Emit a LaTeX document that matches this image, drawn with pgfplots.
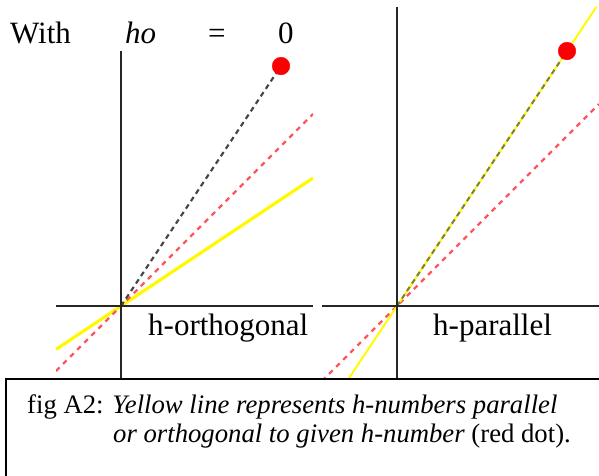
\documentclass[border=0pt]{standalone}
\usepackage{pgfplots}
\pgfplotsset{compat=1.18}
\usepackage{fontspec}
\setmainfont{Liberation Serif}

\definecolor{hyel}{RGB}{255,250,0}
\definecolor{hred}{RGB}{255,85,95}
\definecolor{hdot}{RGB}{250,0,0}
\definecolor{hgray}{RGB}{70,70,70}
\definecolor{holive}{RGB}{125,125,70}

\pgfplotsset{panel/.style={
    axis lines*=middle, axis on top,
    xtick=\empty, ytick=\empty,
    anchor=origin,
    axis line style={black!85, line width=1.3pt},
    clip=true}}

\begin{document}
\begin{tikzpicture}[x=1pt,y=1pt]
\useasboundingbox (0,0) rectangle (599,-475);
\clip (0,0) rectangle (599,-475);

% left panel: h-orthogonal
\begin{axis}[panel, at={(121pt,-306pt)}, x=80pt, y=80pt,
    xmin=-0.8125, xmax=2.4, ymin=-0.92, ymax=3.19]
  \addplot[hyel, line width=3.2pt] coordinates {(-0.8125,-0.5417) (2.4,1.6)};
  \addplot[hred, line width=2.2pt, dash pattern=on 5pt off 5pt] coordinates {(-0.8125,-0.8125) (2.4,2.4)};
  \addplot[hgray, line width=2.2pt, dash pattern=on 5pt off 4pt] coordinates {(0,0) (2,3)};
  \addplot[only marks, mark=*, mark size=8.8pt, hdot] coordinates {(2,3)};
\end{axis}

% right panel: h-parallel
\begin{axis}[panel, at={(397pt,-306pt)}, x=85pt, y=85pt,
    xmin=-0.882, xmax=2.376, ymin=-0.86, ymax=3.52]
  \addplot[hred, line width=2.2pt, dash pattern=on 5pt off 5pt] coordinates {(-0.882,-0.882) (2.376,2.376)};
  \addplot[hyel, line width=2pt] coordinates {(-0.573,-0.86) (2.347,3.52)};
  \addplot[holive, line width=2pt, dash pattern=on 5pt off 4pt] coordinates {(0,0) (2,3)};
  \addplot[only marks, mark=*, mark size=8.8pt, hdot] coordinates {(2,3)};
\end{axis}

\tikzset{lab/.style={anchor=base west, inner sep=0pt, font=\fontsize{31}{36}\selectfont}}
\node[lab] at (10,-43) {With};
\node[lab] at (125,-43) {\itshape ho};
\node[lab] at (208,-43) {=};
\node[lab] at (278,-43) {0};
\node[lab] at (148,-335) {h-orthogonal};
\node[lab] at (433,-335) {h-parallel};

% caption box
\draw[line width=1.5pt, fill=white] (6,-379) rectangle (640,-520);
\tikzset{captxt/.style={anchor=base west, inner sep=0pt, font=\fontsize{26.7}{29}\selectfont}}
\node[captxt] at (27,-413) {fig A2: \textit{Yellow line represents h-numbers parallel}};
\node[captxt] at (113,-442) {\textit{or orthogonal to given h-number} (red dot).};
\end{tikzpicture}
\end{document}
